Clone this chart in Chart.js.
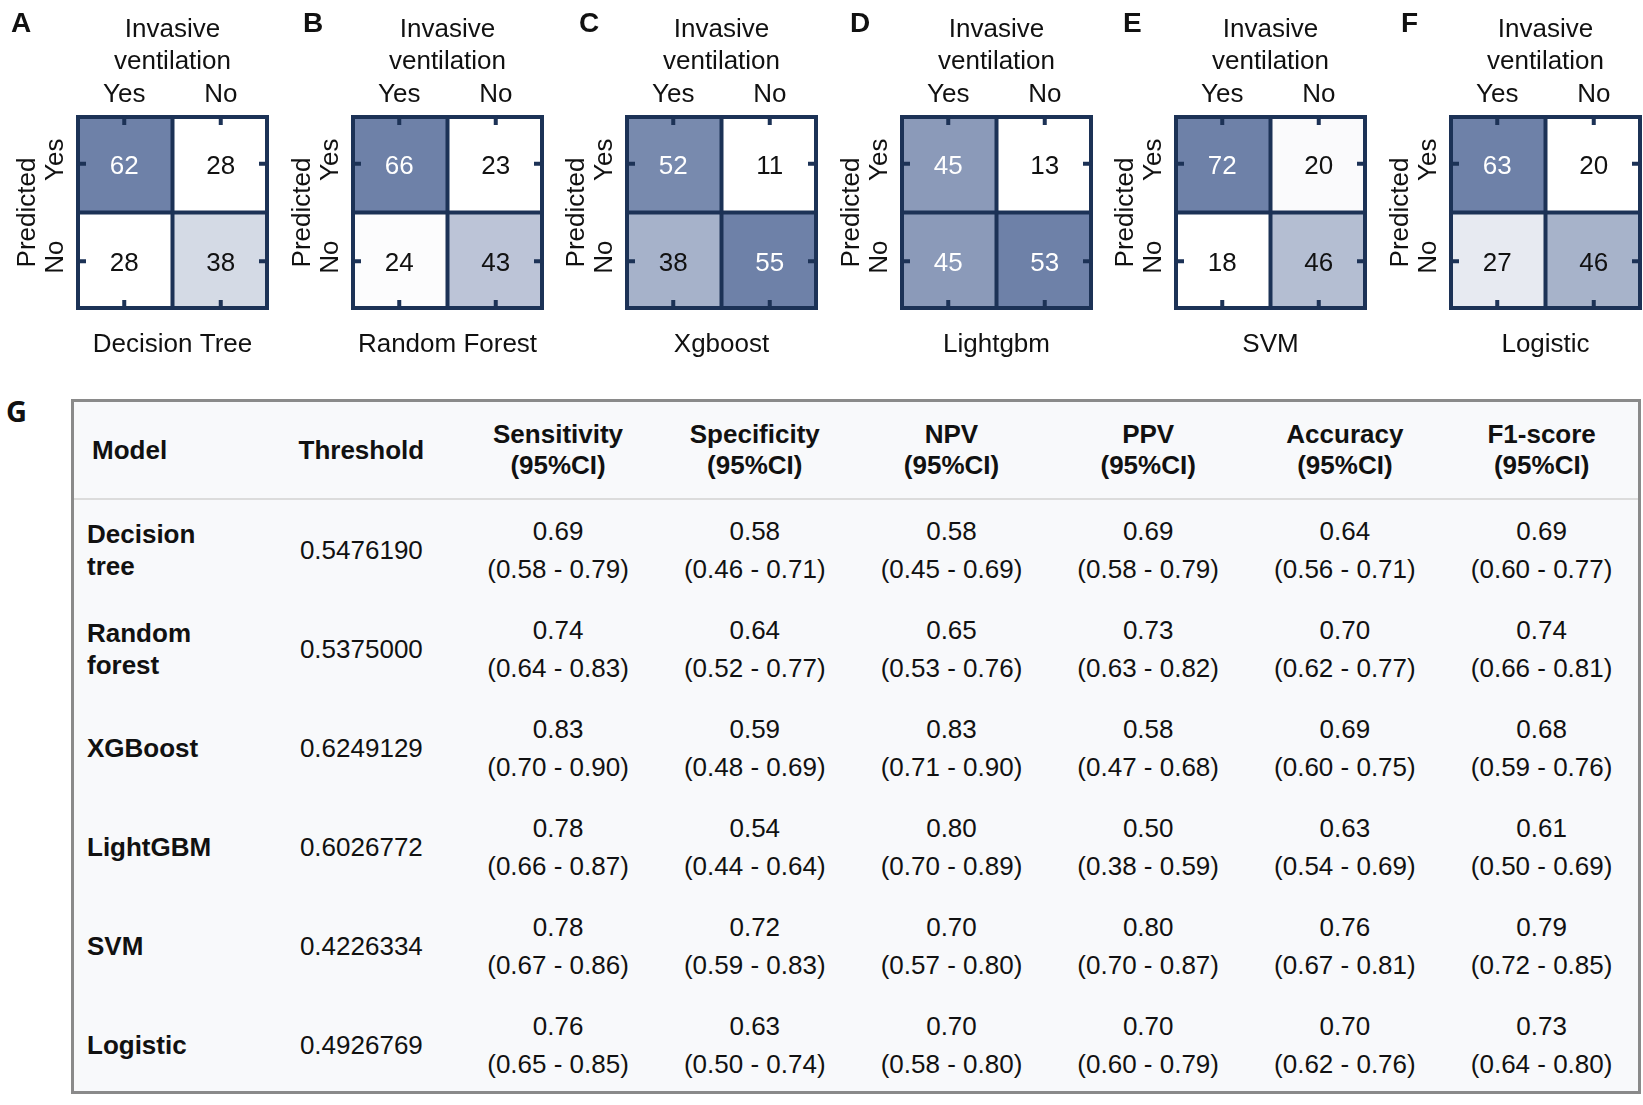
<!DOCTYPE html>
<html>
<head>
<meta charset="utf-8">
<script src="https://cdn.jsdelivr.net/npm/chart.js@4.4.1/dist/chart.umd.min.js"></script>
<style>
  html, body { margin:0; padding:0; background:#fff; }
  body { width:1643px; height:1105px; overflow:hidden; position:relative; font-family:"Liberation Sans", Arial, sans-serif; }
  canvas.panel { position:absolute; top:0; }
  #gLetter { position:absolute; left:6px; top:396px; font:bold 29px "Open Sans", "Liberation Sans", sans-serif; line-height:29px; color:#111; }
  #tbl { position:absolute; left:71px; top:399px; width:1570px; height:695px; box-sizing:border-box; border:3px solid #8a8a8a; background:#f8f9fb; overflow:hidden; }
  table { border-collapse:collapse; table-layout:fixed; width:1566px; }
  th, td { padding:0; text-align:center; vertical-align:middle; font-size:26px; color:#111; }
  thead th { height:96px; line-height:31px; font-weight:bold; border-bottom:2px solid #dcdcdc; }
  thead th.model { text-align:left; padding-left:18px; }
  tbody td { height:99px; line-height:38px; }
  tbody td.model { text-align:left; padding-left:13px; font-weight:bold; line-height:32px; }
  tbody td.model div { width:150px; }
</style>
</head>
<body>
<div id="panels"></div>
<div id="gLetter">G</div>
<div id="tbl"><table id="metrics"></table></div>
<script>
// ---------- Confusion-matrix data (panels A-F) ----------
const panelLetters    = ['A', 'B', 'C', 'D', 'E', 'F'];
const modelNames      = ['Decision Tree', 'Random Forest', 'Xgboost', 'Lightgbm', 'SVM', 'Logistic'];
const actualLabels    = ['Yes', 'No'];      // Invasive ventilation (columns)
const predictedLabels = ['Yes', 'No'];      // Predicted (rows)
const predYesActYes   = [62, 66, 52, 45, 72, 63];
const predYesActNo    = [28, 23, 11, 13, 20, 20];
const predNoActYes    = [28, 24, 38, 45, 18, 27];
const predNoActNo     = [38, 43, 55, 53, 46, 46];

// ---------- Table data (panel G) ----------
const tableModels   = ['Decision tree', 'Random forest', 'XGBoost', 'LightGBM', 'SVM', 'Logistic'];
const thresholds    = ['0.5476190', '0.5375000', '0.6249129', '0.6026772', '0.4226334', '0.4926769'];
const metricHeaders = ['Sensitivity', 'Specificity', 'NPV', 'PPV', 'Accuracy', 'F1-score'];
const sensitivity   = [0.69, 0.74, 0.83, 0.78, 0.78, 0.76];
const sensitivityCI = [[0.58, 0.79], [0.64, 0.83], [0.70, 0.90], [0.66, 0.87], [0.67, 0.86], [0.65, 0.85]];
const specificity   = [0.58, 0.64, 0.59, 0.54, 0.72, 0.63];
const specificityCI = [[0.46, 0.71], [0.52, 0.77], [0.48, 0.69], [0.44, 0.64], [0.59, 0.83], [0.50, 0.74]];
const npv           = [0.58, 0.65, 0.83, 0.80, 0.70, 0.70];
const npvCI         = [[0.45, 0.69], [0.53, 0.76], [0.71, 0.90], [0.70, 0.89], [0.57, 0.80], [0.58, 0.80]];
const ppv           = [0.69, 0.73, 0.58, 0.50, 0.80, 0.70];
const ppvCI         = [[0.58, 0.79], [0.63, 0.82], [0.47, 0.68], [0.38, 0.59], [0.70, 0.87], [0.60, 0.79]];
const accuracy      = [0.64, 0.70, 0.69, 0.63, 0.76, 0.70];
const accuracyCI    = [[0.56, 0.71], [0.62, 0.77], [0.60, 0.75], [0.54, 0.69], [0.67, 0.81], [0.62, 0.76]];
const f1score       = [0.69, 0.74, 0.68, 0.61, 0.79, 0.73];
const f1scoreCI     = [[0.60, 0.77], [0.66, 0.81], [0.59, 0.76], [0.50, 0.69], [0.72, 0.85], [0.64, 0.80]];

// ---------- Styling / layout ----------
const FONT = '"Liberation Sans", Arial, sans-serif';
const NAVY = '#1c3256';
const HIGH = [110, 129, 168];
const PANEL_W = 275, PANEL_H = 370, PANEL_STEP = 274.6;
const letterX = [11, 28, 30, 26, 25, 28];

function cellColor(v, lo, hi) {
  const t = hi > lo ? (v - lo) / (hi - lo) : 0;
  const c = HIGH.map(h => Math.round(255 - t * (255 - h)));
  return `rgb(${c[0]},${c[1]},${c[2]})`;
}

const decorPlugin = {
  id: 'cmDecor',
  afterDatasetsDraw(chart, args, opts) {
    const { ctx, chartArea: a, scales: { x, y } } = chart;
    const cxMid = (a.left + a.right) / 2;
    const cyMid = (a.top + a.bottom) / 2;
    ctx.save();
    // cell values
    ctx.font = '26px ' + FONT;
    ctx.textAlign = 'center';
    ctx.textBaseline = 'alphabetic';
    chart.data.datasets.forEach((ds, r) => {
      chart.getDatasetMeta(r).data.forEach((bar, i) => {
        const p = bar.getProps(['x', 'y', 'base'], true);
        const v = ds.counts[i];
        const t = (v - opts.lo) / (opts.hi - opts.lo);
        ctx.fillStyle = t > 0.7 ? '#ffffff' : '#111111';
        ctx.fillText(String(v), p.x, (p.y + p.base) / 2 + 10);
      });
    });
    // grid lines and frame
    ctx.strokeStyle = NAVY;
    ctx.lineWidth = 4;
    const sepX = (x.getPixelForValue(0) + x.getPixelForValue(1)) / 2;
    const sepY = y.getPixelForValue(1);
    ctx.beginPath();
    ctx.moveTo(sepX, a.top); ctx.lineTo(sepX, a.bottom);
    ctx.moveTo(a.left, sepY); ctx.lineTo(a.right, sepY);
    ctx.stroke();
    ctx.strokeRect(a.left + 2, a.top + 2, a.right - a.left - 4, a.bottom - a.top - 4);
    // inward tick marks
    ctx.fillStyle = NAVY;
    actualLabels.forEach((lab, i) => {
      const px = x.getPixelForValue(i);
      ctx.fillRect(px - 2, a.top, 4, 10);
      ctx.fillRect(px - 2, a.bottom - 10, 4, 10);
    });
    predictedLabels.forEach((lab, r) => {
      const py = y.getPixelForValue(predictedLabels.length - 1 - r + 0.5);
      ctx.fillRect(a.left, py - 2, 10, 4);
      ctx.fillRect(a.right - 10, py - 2, 10, 4);
    });
    // texts
    ctx.fillStyle = '#111111';
    ctx.font = '26px ' + FONT;
    ctx.textAlign = 'center';
    ctx.fillText('Invasive', cxMid, 37);
    ctx.fillText('ventilation', cxMid, 69);
    actualLabels.forEach((lab, i) => ctx.fillText(lab, x.getPixelForValue(i), a.top - 13));
    ctx.fillText(opts.model, cxMid, a.bottom + 42);
    // rotated y labels
    predictedLabels.forEach((lab, r) => {
      const py = y.getPixelForValue(predictedLabels.length - 1 - r + 0.5) - 4;
      ctx.save(); ctx.translate(a.left - 13, py); ctx.rotate(-Math.PI / 2);
      ctx.fillText(lab, 0, 0); ctx.restore();
    });
    ctx.save(); ctx.translate(a.left - 41, cyMid); ctx.rotate(-Math.PI / 2);
    ctx.fillText('Predicted', 0, 0); ctx.restore();
    // panel letter
    ctx.font = 'bold 28px ' + FONT;
    ctx.textAlign = 'left';
    ctx.fillText(opts.letter, opts.letterX, 32);
    ctx.restore();
  }
};

const panelsDiv = document.getElementById('panels');
modelNames.forEach((model, k) => {
  const cv = document.createElement('canvas');
  cv.className = 'panel';
  cv.width = PANEL_W; cv.height = PANEL_H;
  cv.style.width = PANEL_W + 'px'; cv.style.height = PANEL_H + 'px';
  cv.style.left = Math.round(k * PANEL_STEP) + 'px';
  panelsDiv.appendChild(cv);

  const rows = [[predYesActYes[k], predYesActNo[k]], [predNoActYes[k], predNoActNo[k]]];
  const flat = rows.flat();
  const lo = Math.min(...flat), hi = Math.max(...flat);
  const datasets = predictedLabels.map((lab, r) => {
    const base = predictedLabels.length - 1 - r;
    return {
      label: 'Predicted ' + lab,
      data: actualLabels.map(() => [base, base + 1]),
      counts: rows[r],
      backgroundColor: rows[r].map(v => cellColor(v, lo, hi)),
      borderWidth: 0,
      grouped: false,
      barPercentage: 1,
      categoryPercentage: 1
    };
  });

  new Chart(cv, {
    type: 'bar',
    data: { labels: actualLabels, datasets },
    options: {
      responsive: false,
      animation: false,
      events: [],
      layout: { padding: { left: 76, top: 115, right: PANEL_W - 269, bottom: PANEL_H - 310 } },
      scales: {
        x: { type: 'category', display: false, offset: true },
        y: { type: 'linear', display: false, min: 0, max: 2 }
      },
      plugins: {
        legend: { display: false },
        tooltip: { enabled: false },
        title: { display: false },
        cmDecor: { lo, hi, model, letter: panelLetters[k], letterX: letterX[k] }
      }
    },
    plugins: [decorPlugin]
  });
});

// ---------- Table ----------
const metricValues = [sensitivity, specificity, npv, ppv, accuracy, f1score];
const metricCIs    = [sensitivityCI, specificityCI, npvCI, ppvCI, accuracyCI, f1scoreCI];
const tbl = document.getElementById('metrics');
let html = '<colgroup><col style="width:189px"><col style="width:196.7px">' +
  metricHeaders.map(() => '<col style="width:196.7px">').join('') + '</colgroup>';
html += '<thead><tr><th class="model">Model</th><th>Threshold</th>' +
  metricHeaders.map(h => `<th>${h}<br>(95%CI)</th>`).join('') + '</tr></thead><tbody>';
tableModels.forEach((m, r) => {
  html += `<tr><td class="model"><div>${m}</div></td><td>${thresholds[r]}</td>`;
  metricValues.forEach((vals, c) => {
    const ci = metricCIs[c][r];
    html += `<td>${vals[r].toFixed(2)}<br>(${ci[0].toFixed(2)} - ${ci[1].toFixed(2)})</td>`;
  });
  html += '</tr>';
});
html += '</tbody>';
tbl.innerHTML = html;
</script>
</body>
</html>
